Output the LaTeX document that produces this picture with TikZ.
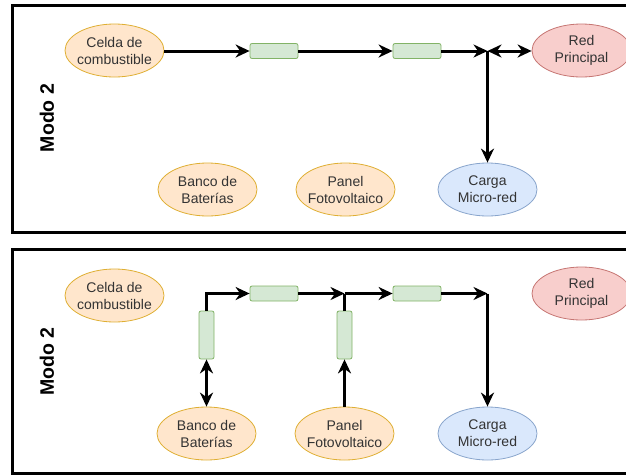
\documentclass[tikz,border=0pt]{standalone}
\usepackage{fontspec}
\setmainfont{Liberation Sans}
\usetikzlibrary{shapes.geometric,arrows.meta}
\definecolor{txt}{HTML}{333333}
\definecolor{orfill}{HTML}{FFE6CC}\definecolor{ordraw}{HTML}{D79B00}
\definecolor{rdfill}{HTML}{F8CECC}\definecolor{rddraw}{HTML}{B85450}
\definecolor{blfill}{HTML}{DAE8FC}\definecolor{bldraw}{HTML}{6C8EBF}
\definecolor{grfill}{HTML}{D5E8D4}\definecolor{grdraw}{HTML}{82B366}
\tikzset{
  unit/.style={ellipse, minimum width=99pt, minimum height=53pt, inner sep=-8pt,
    line width=0.8pt, align=center, text=txt,
    font=\fontsize{14pt}{17pt}\selectfont},
  source/.style={unit, fill=orfill, draw=ordraw!80},
  grid/.style={unit, fill=rdfill, draw=rddraw!80},
  load/.style={unit, fill=blfill, draw=bldraw!80},
  convh/.style={rectangle, rounded corners=2pt, minimum width=48pt, minimum height=15pt,
    inner sep=0pt, fill=grfill, draw=grdraw, line width=0.8pt},
  convv/.style={convh, minimum width=15pt, minimum height=48pt},
  tip/.tip={Stealth[length=14pt,width=13pt,inset=4.5pt]},
  flow/.style={line width=3pt, -tip},
  bothflow/.style={line width=3pt, tip-tip},
  plain/.style={line width=3pt},
  panel/.style={draw=black, line width=3pt},
  modelabel/.style={rotate=90, font=\fontsize{19.5pt}{22pt}\selectfont\bfseries}
}
\begin{document}
\begin{tikzpicture}[x=1pt, y=-1pt]
\useasboundingbox (0,0) rectangle (626,474);
\clip (0,0) rectangle (626,474);

% frames
\draw[panel] (12.5,5) rectangle (640,232);
\draw[panel] (12.5,249) rectangle (640,473.5);

% ---------- upper panel ----------
\node[modelabel] (m1) at (47,118) {Modo 2};
\node[source] (celda1) at (114.5,50.5) {Celda de\\combustible};
\node[convh] (a1) at (274,51) {};
\node[convh] (a2) at (417,51) {};
\node[grid] (red1) at (581.5,50.5) {Red\\Principal};
\node[source] (banco1) at (207.5,189.5) {Banco de\\Baterías};
\node[source] (panel1) at (345.5,189.5) {Panel\\Fotovoltaico};
\node[load] (carga1) at (487.5,189.5) {Carga\\Micro-red};
\coordinate (j1) at (carga1.north |- a2.east);

\draw[flow] (celda1.east |- a1.west) -- (a1.west);
\draw[flow] (a1.east) -- (a2.west);
\draw[flow] (a2.east) -- (j1);
\draw[bothflow] (j1) -- (red1.west |- j1);
\draw[flow] (j1) -- (carga1.north);

% ---------- lower panel ----------
\node[modelabel] (m2) at (47,361.5) {Modo 2};
\node[source] (celda2) at (114.5,295.5) {Celda de\\combustible};
\node[convh] (b1) at (274,293.5) {};
\node[convh] (b2) at (417,293.5) {};
\node[convv] (vb) at (206.5,335) {};
\node[convv] (vp) at (344.5,335) {};
\node[grid] (red2) at (581.5,293.5) {Red\\Principal};
\node[source] (banco2) at (206.5,433.5) {Banco de\\Baterías};
\node[source] (panel2) at (344.5,433.5) {Panel\\Fotovoltaico};
\node[load] (carga2) at (487.5,433.5) {Carga\\Micro-red};
\coordinate (j2) at (vp.north |- b1.east);
\coordinate (j3) at (carga2.north |- b2.east);

\draw[flow] (vb.north) |- (b1.west);
\draw[bothflow] (vb.south) -- (banco2.north);
\draw[flow] (b1.east) -- (j2);
\draw[flow] (j2) -- (b2.west);
\draw[plain] (vp.north) -- (j2);
\draw[flow] (panel2.north) -- (vp.south);
\draw[flow] (b2.east) -- (j3);
\draw[flow] (j3) -- (carga2.north);
\end{tikzpicture}
\end{document}
